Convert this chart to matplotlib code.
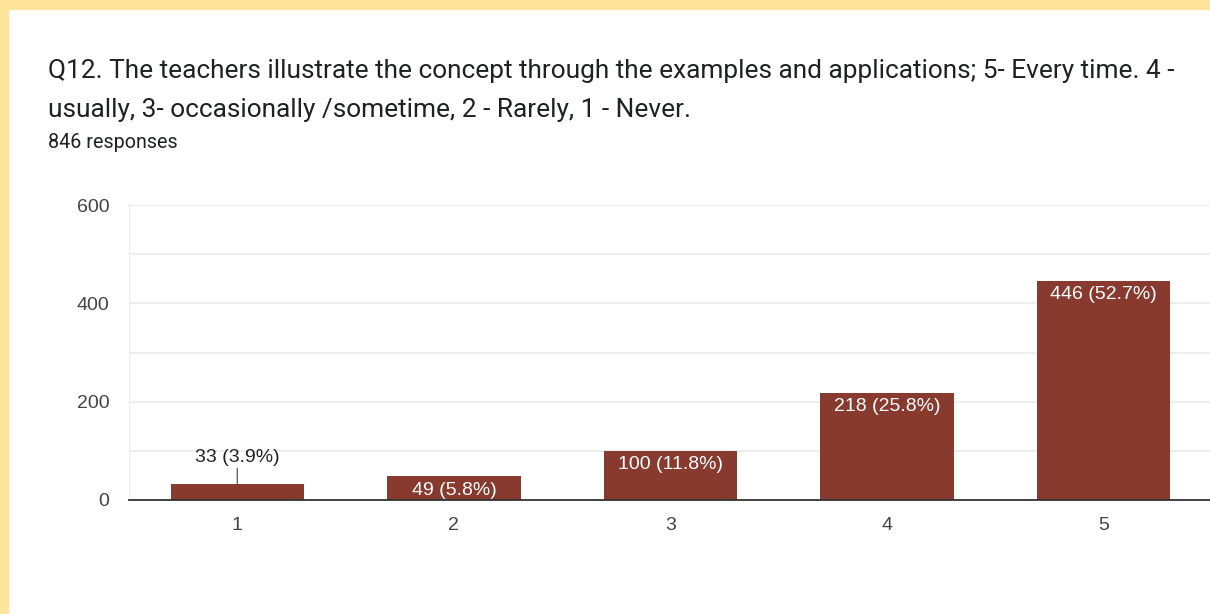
import matplotlib.pyplot as plt
from matplotlib.patches import Rectangle

plt.rcParams['font.family'] = ['Roboto', 'DejaVu Sans']

# Données
categories = ["1", "2", "3", "4", "5"]
counts = [33, 49, 100, 218, 446]
percents = [3.9, 5.8, 11.8, 25.8, 52.7]
total = 846

title = ("Q12. The teachers illustrate the concept through the examples and applications; 5- Every time. 4 -\n"
         "usually, 3- occasionally /sometime, 2 - Rarely, 1 - Never.")

bar_color = "#883a2e"
chart_font = ["Liberation Sans", "DejaVu Sans"]

fig = plt.figure(figsize=(12.1, 6.14), dpi=100)
fig.patch.set_facecolor("white")

# cadre jaune (haut et gauche)
fig.patches.append(Rectangle((0, 1 - 9 / 614), 1, 9 / 614, transform=fig.transFigure,
                             color="#ffe599", zorder=0))
fig.patches.append(Rectangle((0, 0), 8 / 1210, 1, transform=fig.transFigure,
                             color="#ffe599", zorder=0))

fig.text(48 / 1210, 1 - 117 / 614, title, fontsize=18.9, color="#202124",
         ha="left", va="baseline", linespacing=1.8)
fig.text(48 / 1210, 1 - 148 / 614, f"{total} responses", fontsize=14.2, color="#202124",
         ha="left", va="baseline")

ax = fig.add_axes([129 / 1210, 1 - 500 / 614, 1083 / 1210, 295 / 614])
x = range(len(categories))
ax.bar(x, counts, width=0.615, color=bar_color, zorder=3)

ax.set_xlim(-0.5, 4.5)
ax.set_ylim(0, 600)
ax.set_yticks([0, 200, 400, 600])
ax.set_yticks([100, 300, 500], minor=True)
ax.set_xticks(list(x))
ax.set_xticklabels(categories)
ax.grid(True, axis="y", which="both", color="#ebebeb", linewidth=1.2, zorder=0)
ax.tick_params(axis="both", which="both", length=0, labelsize=14, colors="#444444")
ax.tick_params(axis="y", pad=14)
ax.tick_params(axis="x", pad=12)
for lab in ax.get_yticklabels() + ax.get_xticklabels():
    lab.set_family(chart_font)
for s in ["top", "right", "left"]:
    ax.spines[s].set_visible(False)
ax.spines["left"].set_visible(True)
ax.spines["left"].set_color("#ebebeb")
ax.spines["bottom"].set_color("#333333")
ax.spines["bottom"].set_linewidth(1.3)
ax.spines["bottom"].set_zorder(4)

# étiquettes
for i, (c, p) in enumerate(zip(counts, percents)):
    txt = f"{c} ({p}%)"
    if c < 40:
        # étiquette au-dessus avec trait de rappel
        ax.annotate(txt, (i, c), xytext=(0, 13), textcoords="offset points",
                    ha="center", va="bottom", fontsize=14, color="#222222",
                    family=chart_font, zorder=5,
                    arrowprops=dict(arrowstyle="-", color="#666666", lw=1,
                                    shrinkA=0, shrinkB=0))
    elif c < 60:
        # barre trop courte : étiquette posée sur la base
        ax.annotate(txt, (i, 0), xytext=(0, 1), textcoords="offset points",
                    ha="center", va="bottom", fontsize=14, color="white", zorder=5,
                    family=chart_font)
    else:
        ax.annotate(txt, (i, c), xytext=(0, -4), textcoords="offset points",
                    ha="center", va="top", fontsize=14, color="white", zorder=5,
                    family=chart_font)

fig.savefig("out.png", dpi=100)
